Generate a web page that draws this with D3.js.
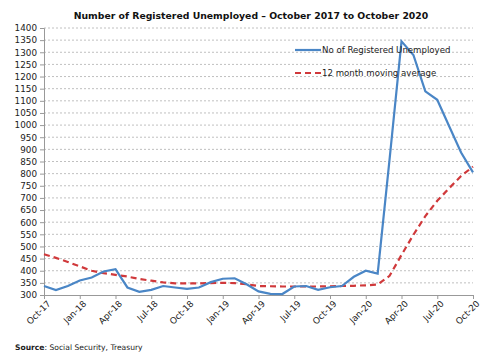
<!DOCTYPE html>
<html>
<head>
<meta charset="utf-8">
<script src="https://cdn.jsdelivr.net/npm/d3@7"></script>
<style>
  body { margin: 0; background: #fff; }
  text { font-family: "DejaVu Sans", Verdana, sans-serif; }
</style>
</head>
<body>
<script>
// monthly data Oct-17 .. Oct-20
const months = ["Oct-17","Nov-17","Dec-17","Jan-18","Feb-18","Mar-18","Apr-18","May-18","Jun-18","Jul-18","Aug-18","Sep-18",
  "Oct-18","Nov-18","Dec-18","Jan-19","Feb-19","Mar-19","Apr-19","May-19","Jun-19","Jul-19","Aug-19","Sep-19",
  "Oct-19","Nov-19","Dec-19","Jan-20","Feb-20","Mar-20","Apr-20","May-20","Jun-20","Jul-20","Aug-20","Sep-20","Oct-20"];
const registered = [337,320,337,360,372,397,406,331,313,321,337,331,
  325,331,353,367,369,344,315,305,304,335,337,321,
  332,337,375,400,388,860,1345,1289,1139,1104,995,887,805];
const movingAvg = [468,453,436,418,400,390,383,376,366,359,352,348,
  348,348,349,350,349,344,337,336,335,335,335,335,
  336,337,338,340,343,379,465,548,625,688,740,790,829];
const yTicks = d3.range(300,1401,50);
const xTickLabels = months.filter((d,i)=>i%3===0);

const width = 493, height = 358;
const margin = {left:44, right:20, top:28, bottom:63};

const svg = d3.select("body").append("svg")
  .attr("width", width).attr("height", height);

const x = d3.scalePoint().domain(months).range([margin.left, width-margin.right]);
const y = d3.scaleLinear().domain([300,1400]).range([height-margin.bottom, margin.top]);

// grid
svg.append("g").selectAll("line")
  .data(yTicks.slice(1))
  .join("line")
  .attr("x1", margin.left).attr("x2", width-margin.right)
  .attr("y1", d=>y(d)).attr("y2", d=>y(d))
  .attr("stroke", "#b0b0b0").attr("stroke-dasharray", "2,2").attr("stroke-width", 0.8);

// y axis
const yAxis = svg.append("g")
  .attr("transform", `translate(${margin.left},0)`)
  .call(d3.axisLeft(y).tickValues(yTicks).tickFormat(d3.format("d")).tickSize(4).tickPadding(3));
yAxis.select(".domain").attr("stroke", "#999");
yAxis.selectAll(".tick line").attr("stroke", "#999");
yAxis.selectAll("text").attr("font-size", 8.8).attr("fill", "#222");

// x axis
const xAxis = svg.append("g")
  .attr("transform", `translate(0,${height-margin.bottom})`)
  .call(d3.axisBottom(x).tickValues(xTickLabels).tickSize(4).tickPadding(2));
xAxis.select(".domain").attr("stroke", "#999");
xAxis.selectAll(".tick line").attr("stroke", "#999");
xAxis.selectAll("text")
  .attr("font-size", 8.8).attr("fill", "#222")
  .attr("text-anchor", "end")
  .attr("dx", "-0.2em").attr("dy", "0.6em")
  .attr("transform", "rotate(-45)");

// lines
const line = d3.line().x((d,i)=>x(months[i])).y(d=>y(d));
svg.append("path").datum(movingAvg)
  .attr("d", line).attr("fill", "none")
  .attr("stroke", "#d0393b").attr("stroke-width", 2.2).attr("stroke-dasharray", "6,4");
svg.append("path").datum(registered)
  .attr("d", line).attr("fill", "none")
  .attr("stroke", "#4a86c6").attr("stroke-width", 2.2);

// legend
const legend = svg.append("g");
legend.append("line").attr("x1",295).attr("x2",321).attr("y1",50).attr("y2",50)
  .attr("stroke","#4a86c6").attr("stroke-width",2.2);
legend.append("text").attr("x",322).attr("y",53).attr("font-size",8.6).attr("fill","#222")
  .text("No of Registered Unemployed");
legend.append("line").attr("x1",295).attr("x2",321).attr("y1",73).attr("y2",73)
  .attr("stroke","#d0393b").attr("stroke-width",2.2).attr("stroke-dasharray","6,4");
legend.append("text").attr("x",322).attr("y",76).attr("font-size",8.6).attr("fill","#222")
  .text("12 month moving average");

// title
svg.append("text").attr("x", 251).attr("y", 19).attr("text-anchor","middle")
  .attr("font-size", 9.3).attr("font-weight","bold").attr("fill","#111")
  .text("Number of Registered Unemployed – October 2017 to October 2020");

// source
const src = svg.append("text").attr("x", 15).attr("y", 350).attr("font-size", 7.6).attr("fill","#222");
src.append("tspan").attr("font-weight","bold").text("Source");
src.append("tspan").text(": Social Security, Treasury");
</script>
</body>
</html>
